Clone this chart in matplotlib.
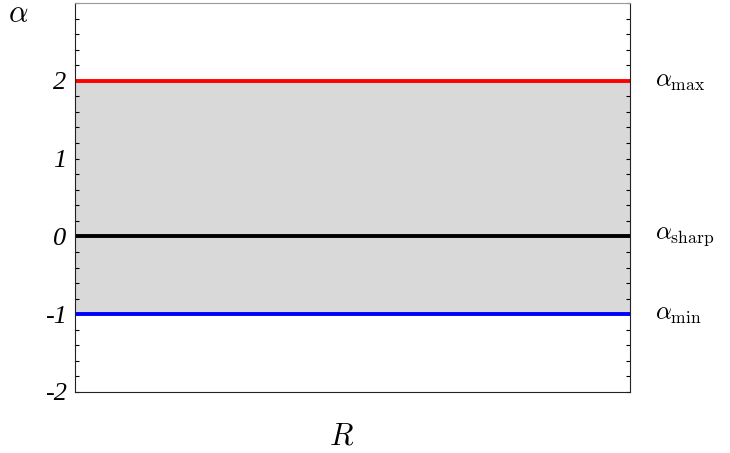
import matplotlib
matplotlib.use('Agg')
import matplotlib.pyplot as plt
from matplotlib.ticker import MultipleLocator

plt.rcParams['mathtext.fontset'] = 'cm'

# data
r_range = [0.0, 1.0]
alpha_max = 2.0
alpha_sharp = 0.0
alpha_min = -1.0
line_names = ['max', 'sharp', 'min']
line_values = [alpha_max, alpha_sharp, alpha_min]
line_colors = ['#ff0000', '#000000', '#0000ff']
y_ticks = [-2, -1, 0, 1, 2]

fig = plt.figure(figsize=(7.3, 4.53), dpi=100)
ax = fig.add_axes([0.1027, 0.1347, 0.7603, 0.8587])

ax.fill_between(r_range, alpha_min, alpha_max, color='#d9d9d9', lw=0)
for name, val, col in zip(line_names, line_values, line_colors):
    ax.plot(r_range, [val, val], color=col, lw=2.8, solid_capstyle='butt')
    ax.text(1.045, val, r'$\alpha_{\rm %s}$' % name, fontsize=18,
            va='center', ha='left', transform=ax.get_yaxis_transform())

ax.set_xlim(r_range)
ax.set_ylim(-2, 3)
ax.set_xticks([])
ax.set_yticks(y_ticks)
ax.set_yticklabels([str(t) for t in y_ticks], family='Liberation Serif',
                   style='italic', fontsize=19)
ax.yaxis.set_minor_locator(MultipleLocator(0.2))
ax.tick_params(axis='y', which='both', direction='in', right=True,
               length=3, width=0.8, pad=6)

for side in ['left', 'right', 'bottom']:
    ax.spines[side].set_color('#222222')
ax.spines['top'].set_color('#999999')

fig.text(0.025, 0.97, r'$\alpha$', fontsize=22, ha='center', va='center')
fig.text(0.468, 0.037, r'$R$', fontsize=22, ha='center', va='center')

plt.savefig('out.png')
